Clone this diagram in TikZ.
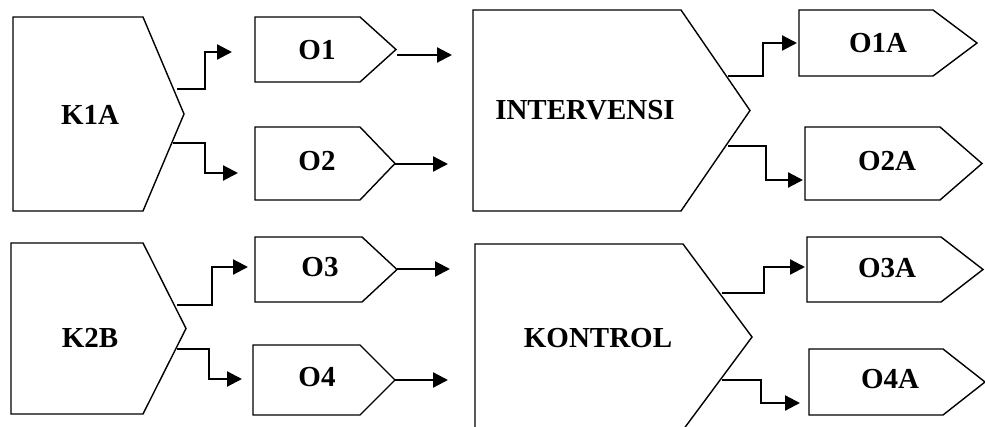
\documentclass[tikz,border=0pt]{standalone}
\usepackage{fontspec}
\setmainfont{Liberation Serif}
\usetikzlibrary{arrows.meta}

% arrow-shaped box: left, top, corner x, tip x, bottom
\newcommand{\arrowbox}[5]{%
  \draw[boxline] (#1,#2) -- (#3,#2) -- (#4,{(#2+#5)/2}) -- (#3,#5) -- (#1,#5) -- cycle;}

\tikzset{
  boxline/.style={line width=1.4pt, line join=miter},
  conn/.style={line width=2.2pt, -{Triangle[length=15pt,width=15pt]}},
  lbl/.style={font=\bfseries\fontsize{29}{29}\selectfont, inner sep=0pt},
}

\begin{document}
\begin{tikzpicture}[x=1pt,y=-1pt]
\clip (0,0) rectangle (985,427);
\fill[white] (0,0) rectangle (985,427);

% ---- group K1A ----
\arrowbox{13}{17}{143}{184}{211}
\node[lbl] (k1a) at (90,115) {K1A};
\arrowbox{255}{17}{360}{396}{82}
\node[lbl] (o1) at (317,50) {O1};
\arrowbox{255}{127}{360}{395}{200}
\node[lbl] (o2) at (317,161) {O2};
\coordinate (k1a-up) at (177,89);
\coordinate (k1a-dn) at (173,143);
\coordinate (o1-in) at (232,52);
\coordinate (o2-in) at (238,173);
\coordinate (o1-out) at (397,55);
\coordinate (o1-end) at (452,55);
\coordinate (o2-out) at (395,164);
\coordinate (o2-end) at (448,164);
\draw[conn] (k1a-up) -- ++(28,0) |- (o1-in);
\draw[conn] (k1a-dn) -- ++(32,0) |- (o2-in);
\draw[conn] (o1-out) -- (o1-end);
\draw[conn] (o2-out) -- (o2-end);

% ---- group INTERVENSI ----
\arrowbox{473}{10}{681}{750}{211}
\node[lbl] (int) at (585,110) {INTERVENSI};
\arrowbox{799}{10}{933}{977}{76}
\node[lbl] (o1a) at (878,43) {O1A};
\arrowbox{805}{127}{940}{982}{200}
\node[lbl] (o2a) at (887,161) {O2A};
\coordinate (int-up) at (728,76);
\coordinate (int-dn) at (728,146);
\coordinate (o1a-in) at (797,43);
\coordinate (o2a-in) at (803,180);
\draw[conn] (int-up) -- ++(35,0) |- (o1a-in);
\draw[conn] (int-dn) -- ++(38,0) |- (o2a-in);

% ---- group K2B ----
\arrowbox{11}{243}{143}{186}{414}
\node[lbl] (k2b) at (90,338) {K2B};
\arrowbox{255}{237}{362}{397}{302}
\node[lbl] (o3) at (320,267) {O3};
\arrowbox{253}{345}{360}{395}{415}
\node[lbl] (o4) at (317,377) {O4};
\coordinate (k2b-up) at (177,305);
\coordinate (k2b-dn) at (177,349);
\coordinate (o3-in) at (248,267);
\coordinate (o4-in) at (242,379);
\coordinate (o3-out) at (397,269);
\coordinate (o3-end) at (450,269);
\coordinate (o4-out) at (395,380);
\coordinate (o4-end) at (448,380);
\draw[conn] (k2b-up) -- ++(35,0) |- (o3-in);
\draw[conn] (k2b-dn) -- ++(32,0) |- (o4-in);
\draw[conn] (o3-out) -- (o3-end);
\draw[conn] (o4-out) -- (o4-end);

% ---- group KONTROL ----
\arrowbox{475}{244}{683}{752}{430}
\node[lbl] (kon) at (598,338) {KONTROL};
\arrowbox{807}{237}{941}{983}{302}
\node[lbl] (o3a) at (887,268) {O3A};
\arrowbox{809}{349}{943}{985}{415}
\node[lbl] (o4a) at (890,379) {O4A};
\coordinate (kon-up) at (722,293);
\coordinate (kon-dn) at (722,380);
\coordinate (o3a-in) at (805,267);
\coordinate (o4a-in) at (800,403);
\draw[conn] (kon-up) -- ++(42,0) |- (o3a-in);
\draw[conn] (kon-dn) -- ++(39,0) |- (o4a-in);
\end{tikzpicture}
\end{document}
